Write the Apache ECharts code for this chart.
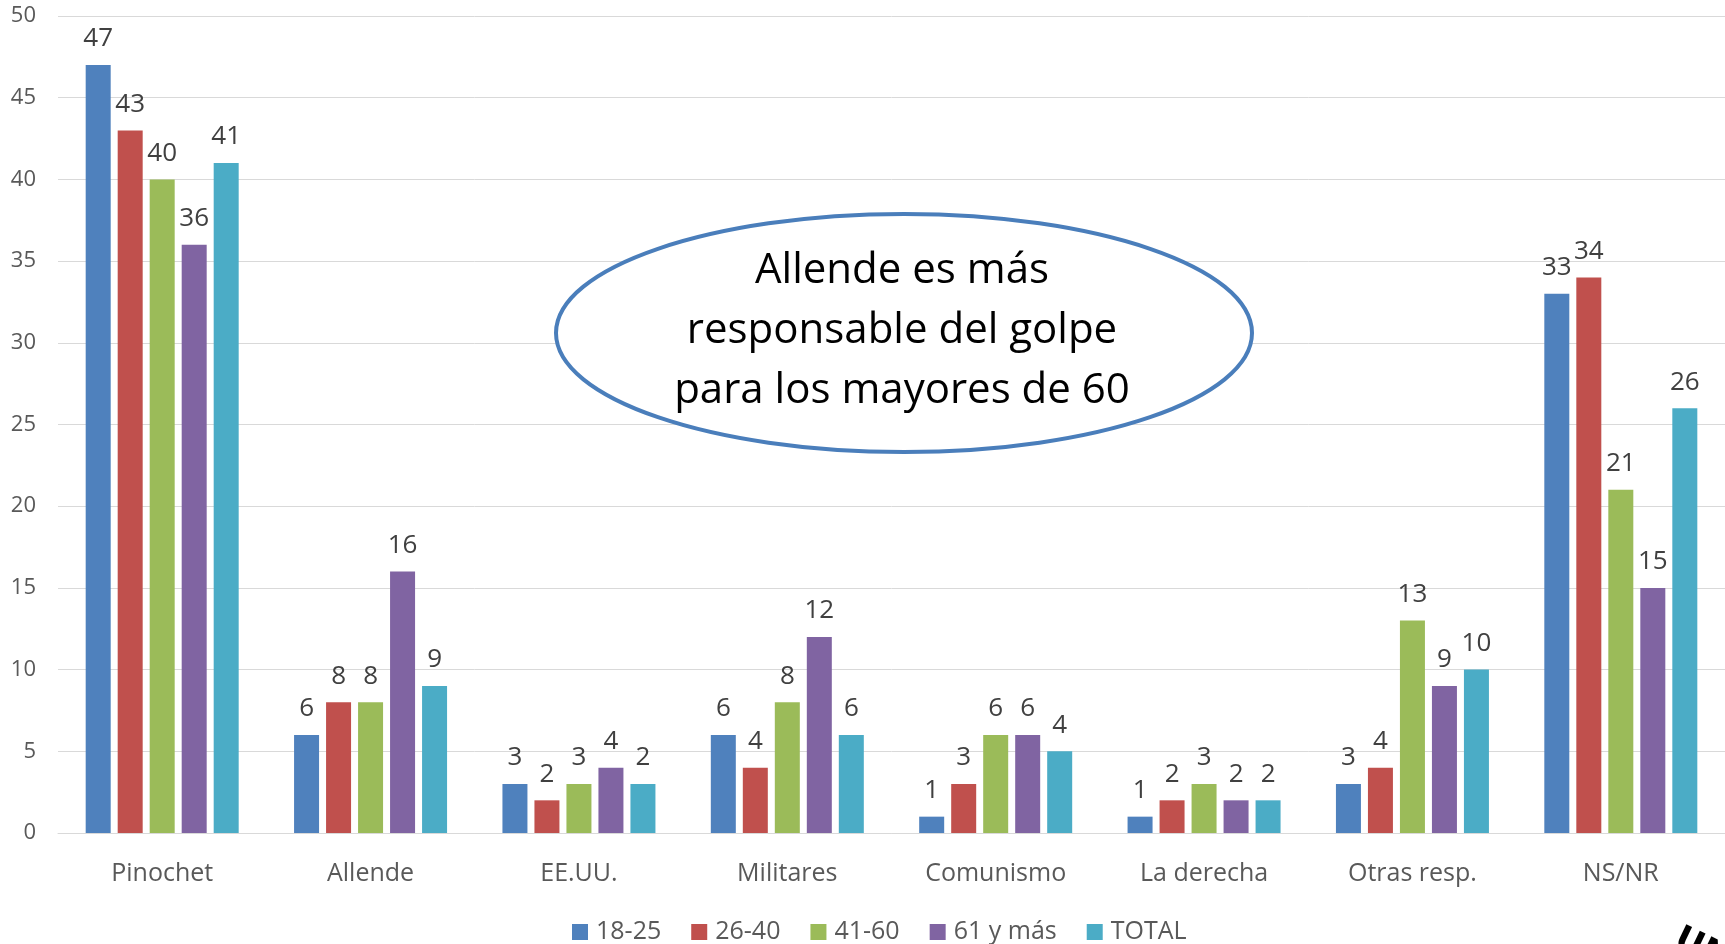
<!DOCTYPE html>
<html>
<head>
<meta charset="utf-8">
<script src="https://cdn.jsdelivr.net/npm/echarts@6/dist/echarts.min.js"></script>
<style>
  html, body { margin: 0; padding: 0; background: #fff; }
  #chart { width: 1725px; height: 944px; }
</style>
</head>
<body>
<div id="chart"></div>
<script>
// categorias y valores
const categories = ["Pinochet", "Allende", "EE.UU.", "Militares", "Comunismo", "La derecha", "Otras resp.", "NS/NR"];
const v1825 = [47, 6, 3, 6, 1, 1, 3, 33];
const v2640 = [43, 8, 2, 4, 3, 2, 4, 34];
const v4160 = [40, 8, 3, 8, 6, 3, 13, 21];
const v61 = [36, 16, 4, 12, 6, 2, 9, 15];
const vTotal = [41, 9, 3, 6, 5, 2, 10, 26];
// etiquetas del TOTAL (no siempre igual a la barra)
const lTotal = [41, 9, 2, 6, 4, 2, 10, 26];
const seriesNames = ["18-25", "26-40", "41-60", "61 y más", "TOTAL"];
const colors = ["#4F81BD", "#C0504D", "#9BBB59", "#8064A2", "#4BACC6"];
const yTicks = [0, 5, 10, 15, 20, 25, 30, 35, 40, 45, 50];

const font = "'Open Sans', sans-serif";
let myChart = echarts.init(document.getElementById("chart"));

function makeSeries(name, data, labels) {
  return {
    name: name,
    type: "bar",
    barWidth: 25,
    barGap: "28%",
    data: data,
    label: {
      show: true,
      position: "top",
      distance: 13,
      color: "#404040",
      fontSize: 26,
      fontFamily: font,
      formatter: p => String(labels ? labels[p.dataIndex] : p.value)
    }
  };
}

myChart.setOption({
  animation: false,
  color: colors,
  textStyle: { fontFamily: font },
  grid: { left: 58, right: 0, top: 16, bottom: 111 },
  legend: {
    left: 572,
    top: 919,
    padding: 0,
    icon: "rect",
    itemWidth: 16,
    itemHeight: 16,
    itemGap: 30,
    textStyle: { fontSize: 25, color: "#595959", fontFamily: font, padding: [0, 0, 0, 3], lineHeight: 26 },
    data: seriesNames
  },
  xAxis: {
    type: "category",
    data: categories,
    axisLine: { lineStyle: { color: "#D9D9D9", width: 1 } },
    axisTick: { show: false },
    axisLabel: { fontSize: 25, color: "#595959", margin: 28, fontFamily: font }
  },
  yAxis: {
    type: "value",
    min: yTicks[0],
    max: yTicks[yTicks.length - 1],
    interval: 5,
    axisLine: { show: false },
    axisTick: { show: false },
    splitLine: { lineStyle: { color: "#D9D9D9", width: 1 } },
    axisLabel: { fontSize: 22, color: "#595959", margin: 22, fontFamily: font }
  },
  series: [
    makeSeries(seriesNames[0], v1825),
    makeSeries(seriesNames[1], v2640),
    makeSeries(seriesNames[2], v4160),
    makeSeries(seriesNames[3], v61),
    makeSeries(seriesNames[4], vTotal, lTotal)
  ],
  graphic: [
    {
      type: "ellipse",
      z: 100,
      shape: { cx: 904, cy: 333, rx: 348, ry: 119 },
      style: { fill: "#fff", stroke: "#4A7EBB", lineWidth: 4 }
    },
    {
      type: "text",
      z: 101,
      x: 902,
      y: 331,
      style: {
        text: "Allende es más\nresponsable del golpe\npara los mayores de 60",
        font: "42px 'Open Sans', sans-serif",
        fill: "#000",
        align: "center",
        verticalAlign: "middle",
        lineHeight: 60
      }
    },
    {
      type: "text",
      z: 101,
      x: 1684,
      y: 922,
      rotation: -0.45,
      style: {
        text: "UNI",
        font: "bold 34px 'DejaVu Sans', sans-serif",
        fill: "#000"
      }
    }
  ]
});
</script>
</body>
</html>
